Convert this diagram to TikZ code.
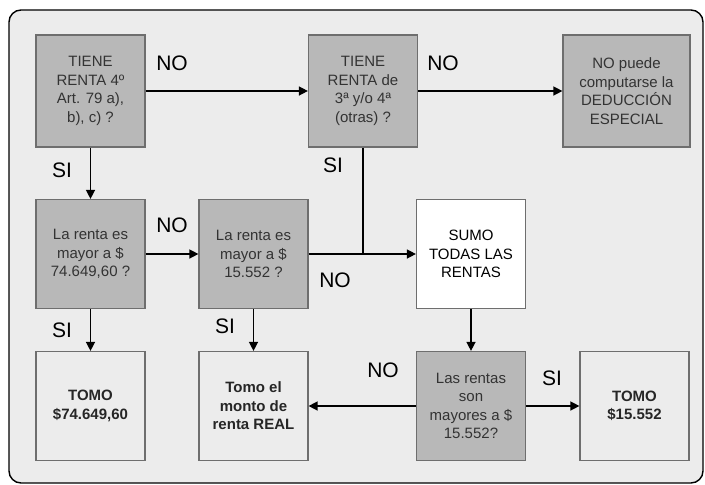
\documentclass[tikz,border=0pt]{standalone}
\usepackage{fontspec}
\setmainfont{Liberation Sans}
\usetikzlibrary{positioning,calc,arrows.meta}
\definecolor{fondo}{HTML}{ECECEC}
\definecolor{caja}{HTML}{B8B8B8}
\definecolor{borde}{HTML}{6E6E6E}

\begin{document}
\begin{tikzpicture}[x=1pt,y=-1pt,
    box/.style={draw=borde,line width=1.2pt,minimum width=109pt,minimum height=109pt,
        align=center,font=\fontsize{15}{18.5}\selectfont,inner sep=2pt},
    pregunta/.style={box,fill=caja,text=black!80},
    resultado/.style={box,fill=fondo,font=\fontsize{15}{18.5}\selectfont\bfseries,text=black!85},
    etiqueta/.style={font=\fontsize{21}{24}\selectfont},
    flecha/.style={line width=1.4pt,-{Triangle[length=9pt,width=9pt]}}]
    \useasboundingbox (0,0) rectangle (705,485);
    \draw[fill=fondo,line width=1.4pt,rounded corners=12pt] (9,10) rectangle (703,483);
    % primera fila
    \node[pregunta,minimum height=112pt] (tiene4) at (90.5,91) {TIENE\\RENTA 4º\\Art. 79 a),\\b), c) ?};
    \node[pregunta,minimum height=112pt] (tiene3) at (363,91) {TIENE\\RENTA de\\3ª y/o 4ª\\(otras) ?};
    \node[pregunta,minimum height=112pt,minimum width=127pt] (nopuede) at (626.5,91) {NO puede\\computarse la\\DEDUCCIÓN\\ESPECIAL};
    % segunda fila
    \node[pregunta] (mayor74) at (90.5,254) {La renta es\\mayor a \$\\74.649,60 ?};
    \node[pregunta] (mayor15) at (253.5,254) {La renta es\\mayor a \$\\15.552 ?};
    \node[box,fill=white] (sumo) at (471,254) {SUMO\\TODAS LAS\\RENTAS};
    % tercera fila
    \node[resultado] (tomo74) at (90.5,406) {TOMO\\\$74.649,60};
    \node[resultado] (tomoreal) at (253.5,406) {Tomo el\\monto de\\renta REAL};
    \node[pregunta] (mayores) at (471,406) {Las rentas\\son\\mayores a \$\\15.552?};
    \node[resultado] (tomo15) at (634.5,406) {TOMO\\\$15.552};
    % conectores
    \draw[flecha] (tiene4) -- (tiene3);
    \draw[flecha] (tiene3) -- (nopuede);
    \draw[flecha] (tiene4) -- (mayor74);
    \draw[flecha] (mayor74) -- (mayor15);
    \draw[flecha] (mayor15) -- (sumo);
    \draw[line width=1.4pt] (tiene3.south) -- (tiene3.south |- sumo.west);
    \draw[flecha] (mayor74) -- (tomo74);
    \draw[flecha] (mayor15) -- (tomoreal);
    \draw[flecha] (sumo) -- (mayores);
    \draw[flecha] (mayores) -- (tomoreal);
    \draw[flecha] (mayores) -- (tomo15);
    % etiquetas
    \node[etiqueta] (no1) at (172,63) {NO};
    \node[etiqueta] (no2) at (443,63) {NO};
    \node[etiqueta] (si1) at (62,170) {SI};
    \node[etiqueta] (si2) at (333,165) {SI};
    \node[etiqueta] (no3) at (172,225) {NO};
    \node[etiqueta] (no4) at (335,280) {NO};
    \node[etiqueta] (si3) at (62,330) {SI};
    \node[etiqueta] (si4) at (225,326) {SI};
    \node[etiqueta] (no5) at (383,370) {NO};
    \node[etiqueta] (si5) at (552,378) {SI};
\end{tikzpicture}
\end{document}
